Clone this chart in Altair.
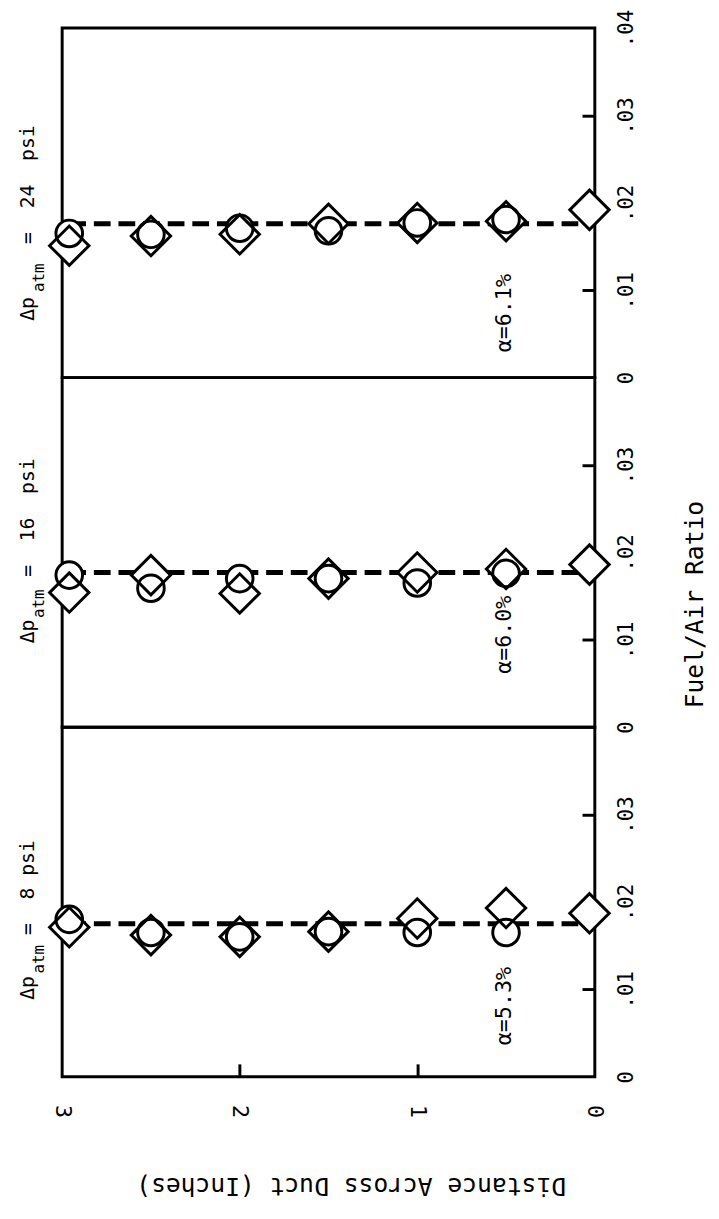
import altair as alt
import pandas as pd

FONT = "DejaVu Sans Mono"
W, H = 541, 355
NB = "\u00a0"

# ---- data ----
diamond_distance = [2.96, 2.5, 2.0, 1.5, 1.0, 0.5, 0.03]
circle_distance = [2.96, 2.5, 2.0, 1.5, 1.0, 0.5]

circle_fa_24 = [0.0165, 0.0164, 0.0171, 0.0168, 0.0177, 0.0181]
diamond_fa_24 = [0.0151, 0.0162, 0.0164, 0.0176, 0.0177, 0.0179, 0.0192]
circle_fa_16 = [0.0174, 0.0159, 0.0170, 0.0170, 0.0165, 0.0176]
diamond_fa_16 = [0.0154, 0.0174, 0.0153, 0.0170, 0.0177, 0.0181, 0.0186]
circle_fa_8 = [0.0180, 0.0165, 0.0160, 0.0166, 0.0165, 0.0165]
diamond_fa_8 = [0.0171, 0.0162, 0.0160, 0.0166, 0.0181, 0.0193, 0.0187]

mean_fa = [0.0176, 0.0177, 0.0175]          # dashed line per panel (24, 16, 8 psi)
pressure_text = ["=" + NB * 2 + "24" + NB * 2 + "psi",
                 "=" + NB * 2 + "16" + NB * 2 + "psi",
                 "=" + NB * 2 + "8" + NB + "psi"]
alpha_text = ["α=6.1%", "α=6.0%", "α=5.3%"]

# ---- annotation anchors (data units) ----
LABEL_D_MAIN = 3.161
LABEL_D_SUB = 3.105
label_fa_delta = [0.0065, 0.0096, 0.0088]
label_fa_sub = [0.0098, 0.0125, 0.0118]
label_fa_eq = [0.0153, 0.0172, 0.0162]
ALPHA_D = 0.471
alpha_fa = [0.0029, 0.0061, 0.0036]

y_label_expr = "datum.value == 0 ? '0' : '.0' + format(datum.value * 100, '.0f')"


def panel(i, circ, diam, position):
    xs = alt.Scale(domain=[0, 3], reverse=True, nice=False, zero=False)
    ys = alt.Scale(domain=[0, 0.04], nice=False, zero=False)
    is_bottom = position == "bottom"
    y_vals = [0, 0.01, 0.02, 0.03, 0.04] if position == "top" else [0, 0.01, 0.02, 0.03]

    y_tick_axis = alt.Axis(orient="left", offset=-W, values=[0.01, 0.02, 0.03],
                           tickSize=13, tickWidth=3, tickColor="black",
                           labels=False, domain=False, grid=False, title=None)
    x_tick_axis = alt.Axis(orient="top", offset=-H, values=[1, 2],
                           tickSize=13, tickWidth=3, tickColor="black",
                           labels=False, domain=False, grid=False, title=None)

    y_kw = dict(orient="right", values=y_vals, ticks=False, domain=False, grid=False,
                labelAngle=270, labelAlign="center", labelBaseline="middle",
                labelPadding=32, labelFontSize=21, labelExpr=y_label_expr,
                labelFont=FONT, labelColor="black")
    if position == "middle":
        y_label_axis = alt.Axis(title="Fuel/Air Ratio", titleAngle=270, titleFontSize=25,
                                titleX=101, titleY=230, titleAlign="center",
                                titleBaseline="middle", titleFont=FONT,
                                titleFontWeight="normal", titleColor="black", **y_kw)
    else:
        y_label_axis = alt.Axis(title=None, **y_kw)

    x_label_axis = alt.Axis(orient="bottom", values=[0, 1, 2, 3], ticks=False, domain=False,
                            grid=False, labelAngle=90, labelAlign="center",
                            labelBaseline="middle", labelPadding=35, labelFontSize=22,
                            labelFont=FONT, labelColor="black",
                            format="d", title="Distance Across Duct (Inches)",
                            titleAngle=180, titleFontSize=25, titleX=293, titleY=110,
                            titleAlign="center", titleBaseline="middle", titleFont=FONT,
                            titleFontWeight="normal", titleColor="black")

    line_df = pd.DataFrame({"d": [diamond_distance[0], diamond_distance[-1]],
                            "fa": [mean_fa[i], mean_fa[i]]})
    circ_df = pd.DataFrame({"d": circle_distance, "fa": circ})
    diam_df = pd.DataFrame({"d": diamond_distance, "fa": diam})

    line = alt.Chart(line_df).mark_line(color="black", strokeWidth=5, strokeDash=[17, 8]).encode(
        x=alt.X("d:Q", scale=xs, axis=x_tick_axis if is_bottom else None),
        y=alt.Y("fa:Q", scale=ys, axis=y_tick_axis),
    )

    def pts(df, shape, size, filled, axes=False):
        if filled:
            mk = alt.Chart(df).mark_point(shape=shape, size=size, filled=True,
                                          color="white", opacity=1)
        else:
            mk = alt.Chart(df).mark_point(shape=shape, size=size, filled=False,
                                          color="black", strokeWidth=3, opacity=1)
        if axes:
            return mk.encode(
                x=alt.X("d:Q", scale=xs, axis=x_label_axis if is_bottom else None),
                y=alt.Y("fa:Q", scale=ys, axis=y_label_axis))
        return mk.encode(x=alt.X("d:Q", scale=xs, axis=None),
                         y=alt.Y("fa:Q", scale=ys, axis=None))

    fill_c = pts(circ_df, "circle", 730, True)
    fill_d = pts(diam_df, "diamond", 1600, True)
    stroke_c = pts(circ_df, "circle", 730, False, axes=True)
    stroke_d = pts(diam_df, "diamond", 1600, False)

    def txt(d, fa, t, size):
        df = pd.DataFrame({"d": [d], "fa": [fa], "t": [t]})
        return alt.Chart(df).mark_text(angle=270, align="left", baseline="alphabetic",
                                       font=FONT, fontSize=size, color="black").encode(
            x=alt.X("d:Q", scale=xs, axis=None),
            y=alt.Y("fa:Q", scale=ys, axis=None),
            text="t:N")

    t1 = txt(LABEL_D_MAIN, label_fa_delta[i], "Δp", 20)
    t2 = txt(LABEL_D_SUB, label_fa_sub[i], "atm", 16)
    t3 = txt(LABEL_D_MAIN, label_fa_eq[i], pressure_text[i], 20)
    t4 = txt(ALPHA_D, alpha_fa[i], alpha_text[i], 22)

    return alt.layer(line, fill_c, fill_d, stroke_c, stroke_d, t1, t2, t3, t4).resolve_axis(
        x="independent", y="independent").properties(width=W, height=H)


p24 = panel(0, circle_fa_24, diamond_fa_24, "top")
p16 = panel(1, circle_fa_16, diamond_fa_16, "middle")
p8 = panel(2, circle_fa_8, diamond_fa_8, "bottom")

chart = alt.vconcat(p24, p16, p8, spacing=0, bounds="flush").properties(
    padding={"left": 8, "top": -10, "right": 2, "bottom": 2},
    background="white",
).configure_view(stroke="black", strokeWidth=3)

chart.save("out.html", embed_options={"renderer": "svg", "actions": False})
